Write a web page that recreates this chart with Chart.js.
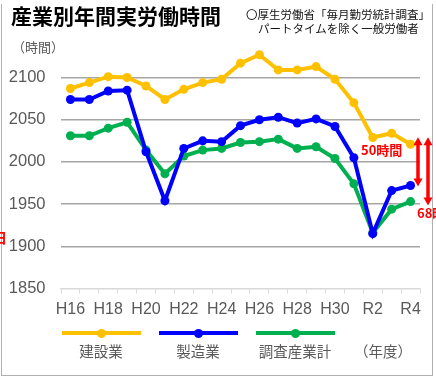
<!DOCTYPE html>
<html lang="ja">
<head>
<meta charset="utf-8">
<script src="https://cdn.jsdelivr.net/npm/chart.js@4.4.1/dist/chart.umd.min.js"></script>
<style>
  html, body { margin: 0; padding: 0; background: #fff; }
  body { width: 436px; height: 377px; position: relative; overflow: hidden;
         font-family: "Noto Sans CJK JP", "Noto Sans", sans-serif; }
  #frame { position: absolute; left: 1px; top: 4px; width: 430px; height: 371px;
           border: 1px solid #b0b0b0; border-top: none; }
  #c { position: absolute; left: 0; top: 0; }
  .t { position: absolute; white-space: nowrap; line-height: 1; }
  #title { left: 11px; top: 5px; font-size: 21px; font-weight: bold; color: #000; }
  #src1 { left: 246px; top: 9px; font-size: 11.5px; color: #111; }
  #src2 { left: 258px; top: 23px; font-size: 11.5px; color: #111; }
  #unit { left: 12px; top: 40px; font-size: 13px; color: #595959; }
  .lg-line { position: absolute; height: 4px; top: 331px; width: 79px; }
  .lg-dot { position: absolute; width: 9px; height: 9px; border-radius: 50%; top: 328.5px; }
  .lg-lab { position: absolute; top: 344px; font-size: 14.5px; color: #595959; white-space: nowrap;
            transform: translateX(-50%); line-height: 1; }
  .red { color: #ff0000; font-weight: bold; font-size: 13px; }
</style>
</head>
<body>
<div id="frame"></div>
<canvas id="c" width="436" height="377"></canvas>
<div class="t" id="title">産業別年間実労働時間</div>
<div class="t" id="src1">〇厚生労働省「毎月勤労統計調査」</div>
<div class="t" id="src2">パートタイムを除く一般労働者</div>
<div class="t" id="unit">（時間）</div>
<div class="t red" style="left:361px; top:143px;">50時間</div>
<div class="t red" style="left:417px; top:206px;">68時間</div>
<div class="t red" style="left:-7px; top:230px; font-size:14px;">日</div>
<div id="legend"></div>
<div class="lg-lab" style="left:383px;">（年度）</div>
<script>
// ---- data ----
const categories = ['H16','H17','H18','H19','H20','H21','H22','H23','H24','H25','H26','H27','H28','H29','H30','R1','R2','R3','R4'];
const construction  = [2087, 2094, 2101, 2100, 2090, 2074, 2086, 2094, 2098, 2117, 2127, 2109, 2109, 2113, 2098, 2070, 2029, 2034, 2021];
const manufacturing = [2074, 2074, 2084, 2085, 2012, 1954, 2016, 2025, 2024, 2043, 2050, 2053, 2046, 2051, 2042, 2005, 1915, 1966, 1972];
const allIndustries = [2031, 2031, 2040, 2047, 2014, 1986, 2007, 2014, 2016, 2023, 2024, 2027, 2016, 2018, 2004, 1974, 1916, 1944, 1953];
const seriesNames = ['建設業', '製造業', '調査産業計'];
const seriesColors = ['#FFC000', '#0000FF', '#00B050'];
const yTicks = [1850, 1900, 1950, 2000, 2050, 2100];

// ---- legend (HTML) ----
const legendCenters = [101, 198, 295];
const lg = document.getElementById('legend');
seriesNames.forEach((name, i) => {
  const cx = legendCenters[i];
  const line = document.createElement('div');
  line.className = 'lg-line';
  line.style.left = (cx - 39.5) + 'px';
  line.style.background = seriesColors[i];
  lg.appendChild(line);
  const dot = document.createElement('div');
  dot.className = 'lg-dot';
  dot.style.left = (cx - 4.5) + 'px';
  dot.style.background = seriesColors[i];
  lg.appendChild(dot);
  const lab = document.createElement('div');
  lab.className = 'lg-lab';
  lab.style.left = cx + 'px';
  lab.textContent = name;
  lg.appendChild(lab);
});

// ---- arrows annotation plugin ----
const arrowPlugin = {
  id: 'arrows',
  afterDraw(chart) {
    const ctx = chart.ctx, y = chart.scales.y, area = chart.chartArea;
    const last = categories.length - 1;
    const top = y.getPixelForValue(construction[last]) - 7;
    const arrows = [
      { x: area.right - 2, y1: top, y2: y.getPixelForValue(manufacturing[last]) + 1 },
      { x: area.right + 8, y1: top, y2: y.getPixelForValue(allIndustries[last]) + 4 }
    ];
    ctx.save();
    ctx.fillStyle = '#ff0000';
    ctx.strokeStyle = '#ff0000';
    ctx.lineWidth = 3.5;
    const hw = 4.5, hl = 8;
    arrows.forEach(a => {
      ctx.beginPath();
      ctx.moveTo(a.x, a.y1 + hl - 1);
      ctx.lineTo(a.x, a.y2 - hl + 1);
      ctx.stroke();
      ctx.beginPath();
      ctx.moveTo(a.x, a.y1); ctx.lineTo(a.x - hw, a.y1 + hl); ctx.lineTo(a.x + hw, a.y1 + hl); ctx.closePath(); ctx.fill();
      ctx.beginPath();
      ctx.moveTo(a.x, a.y2); ctx.lineTo(a.x - hw, a.y2 - hl); ctx.lineTo(a.x + hw, a.y2 - hl); ctx.closePath(); ctx.fill();
    });
    ctx.restore();
  }
};

const datasets = [construction, manufacturing, allIndustries].map((d, i) => ({
  label: seriesNames[i],
  data: d,
  borderColor: seriesColors[i],
  backgroundColor: seriesColors[i],
  pointBackgroundColor: seriesColors[i],
  pointBorderColor: seriesColors[i],
  borderWidth: 4,
  pointRadius: 4.5,
  pointBorderWidth: 0,
  tension: 0
}));

new Chart(document.getElementById('c'), {
  type: 'line',
  data: { labels: categories, datasets },
  options: {
    responsive: false,
    devicePixelRatio: 1,
    animation: false,
    layout: { padding: { left: 0, right: 16, top: 48, bottom: 48 } },
    plugins: { legend: { display: false }, title: { display: false }, tooltip: { enabled: false } },
    scales: {
      x: {
        offset: true,
        grid: { offset: true, drawOnChartArea: false, drawTicks: true, tickLength: 5, color: '#d9d9d9', lineWidth: 1 },
        border: { display: true, color: '#d9d9d9', width: 1.5 },
        ticks: {
          autoSkip: false, maxRotation: 0, padding: 6,
          color: '#595959',
          font: { family: '"Liberation Sans", Arial, sans-serif', size: 16 },
          callback: (v, i) => (i % 2 === 0 ? categories[i] : '')
        },
        afterFit: s => { s.height = 40.5; }
      },
      y: {
        min: 1850, max: 2135,
        afterBuildTicks: s => { s.ticks = yTicks.map(v => ({ value: v })); },
        grid: {
          drawTicks: false,
          color: c => (c.tick && c.tick.value === 1850 ? 'rgba(0,0,0,0)' : '#a6a6a6'),
          lineWidth: 1.5
        },
        border: { display: false },
        ticks: {
          padding: 15.5,
          color: '#595959',
          font: { family: '"Liberation Sans", Arial, sans-serif', size: 16.5 },
          callback: v => String(v)
        },
        afterFit: s => { s.width = 61; }
      }
    }
  },
  plugins: [arrowPlugin]
});
</script>
</body>
</html>
